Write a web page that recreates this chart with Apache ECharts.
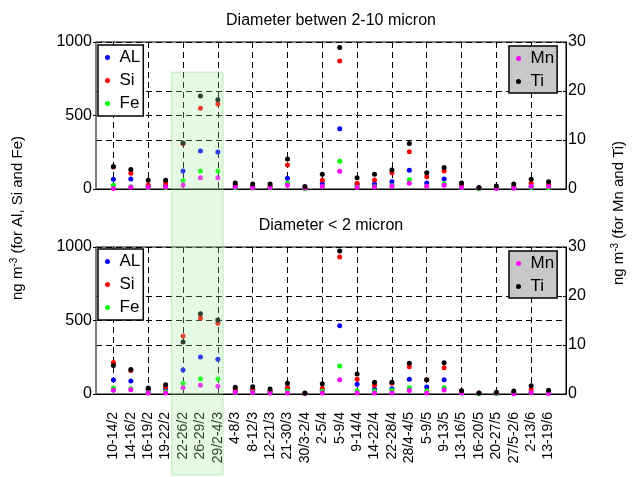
<!DOCTYPE html>
<html><head><meta charset="utf-8">
<script src="https://cdn.jsdelivr.net/npm/echarts@6/dist/echarts.min.js"></script>
<style>html,body{margin:0;padding:0;background:#fff}#c{width:635px;height:477px}</style>
</head><body><div id="c"></div>
<script>
const categories = ['10-14/2','14-16/2','16-19/2','19-22/2','22-26/2','26-29/2','29/2-4/3','4-8/3','8-12/3','12-21/3','21-30/3','30/3-2/4','2-5/4','5-9/4','9-14/4','14-22/4','22-28/4','28/4-4/5','5-9/5','9-13/5','13-16/5','16-20/5','20-27/5','27/5-2/6','2-13/6','13-19/6'];

// Top panel: Diameter 2-10 micron
const alTop = [66, 68, 15, 20, 122, 258, 252, 12, 10, 10, 73, 3, 36, 410, 30, 34, 50, 127, 41, 68, 15, 4, 5, 8, 20, 18];
const siTop = [150, 107, 27, 41, 308, 549, 578, 25, 20, 18, 163, 5, 59, 871, 39, 61, 111, 254, 84, 122, 27, 6, 10, 15, 39, 29];
const feTop = [25, 16, 8, 10, 57, 122, 122, 8, 6, 6, 39, 2, 15, 188, 12, 15, 22, 63, 18, 34, 8, 2, 3, 5, 10, 8];
const mnTop = [0.1, 0.35, 0.35, 0.4, 0.8, 2.3, 2.3, 0.4, 0.3, 0.3, 0.75, 0.2, 0.5, 3.6, 0.3, 0.4, 0.55, 1.15, 0.55, 0.75, 0.3, 0.2, 0.1, 0.15, 0.5, 0.5];
const tiTop = [4.6, 4.0, 1.8, 1.8, 9.4, 19.0, 18.2, 1.2, 1.0, 1.0, 6.1, 0.5, 3.0, 28.9, 2.3, 3.0, 3.9, 9.3, 3.3, 4.4, 1.2, 0.3, 0.6, 1.0, 2.0, 1.5];

// Bottom panel: Diameter < 2 micron
const alBot = [95, 88, 25, 36, 163, 252, 236, 20, 27, 12, 36, 3, 25, 465, 66, 32, 36, 100, 48, 97, 10, 3, 4, 5, 12, 8];
const siBot = [214, 160, 34, 50, 395, 515, 481, 32, 32, 18, 45, 4, 39, 932, 100, 59, 73, 186, 97, 179, 20, 4, 6, 8, 29, 12];
const feBot = [41, 35, 10, 15, 73, 104, 102, 8, 10, 6, 20, 1, 19, 190, 22, 20, 25, 43, 20, 43, 6, 2, 2, 3, 8, 5];
const mnBot = [0.75, 0.85, 0.2, 0.2, 1.3, 1.8, 1.6, 0.3, 0.25, 0.2, 0.2, 0.1, 0.2, 2.9, 0.2, 0.2, 0.2, 0.7, 0.2, 0.8, 0.2, 0.2, 0.2, 0.05, 0.27, 0.1];
const tiBot = [5.8, 5.0, 1.2, 1.9, 10.6, 16.4, 15.1, 1.4, 1.5, 1.0, 2.2, 0.2, 2.1, 29.2, 4.1, 2.4, 2.4, 6.3, 2.9, 6.4, 0.65, 0.2, 0.35, 0.6, 1.7, 0.75];

const leftTicks = [0, 500, 1000];
const rightTicks = [0, 10, 20, 30];
const shadeRange = [4.35, 7.3]; // category positions of shaded period
const shadeTopValue = 795;

const FONT = '"Liberation Sans", Arial, Helvetica, sans-serif';
const axisCats = [''].concat(categories, ['']);
const dash = {color: '#000', width: 1, type: [6, 4]};
const plain = function (v) { return String(v); };

function xAxisFor(gi, showLabels) {
  return {
    type: 'category', gridIndex: gi, data: axisCats, boundaryGap: false,
    axisLine: {show: true, lineStyle: {color: '#000', width: 1}},
    axisTick: {show: false},
    axisLabel: showLabels ? {show: true, interval: 0, rotate: 90, fontSize: 14, fontFamily: FONT, color: '#000', margin: 18} : {show: false},
    splitLine: {show: true, interval: function (idx) { return idx % 2 === 1 && idx <= 25; }, lineStyle: dash}
  };
}
function yLeft(gi) {
  return {
    type: 'value', gridIndex: gi, position: 'left', min: leftTicks[0], max: leftTicks[leftTicks.length - 1], interval: leftTicks[1] - leftTicks[0],
    axisLine: {show: true, lineStyle: {color: '#7f7f7f', width: 1.5}},
    axisTick: {show: true, inside: false, length: 3, lineStyle: {color: '#000'}},
    axisLabel: {fontSize: 16, fontFamily: FONT, color: '#000', margin: 4, formatter: plain},
    splitLine: {show: true, lineStyle: dash}
  };
}
function yRight(gi) {
  return {
    type: 'value', gridIndex: gi, position: 'right', min: rightTicks[0], max: rightTicks[rightTicks.length - 1], interval: rightTicks[1] - rightTicks[0],
    axisLine: {show: true, lineStyle: {color: '#000', width: 1}},
    axisTick: {show: true, inside: true, length: 3, lineStyle: {color: '#000'}},
    axisLabel: {fontSize: 16, fontFamily: FONT, color: '#000', margin: 2, formatter: plain},
    splitLine: {show: true, lineStyle: dash}
  };
}
function sc(name, data, gi, yi, color) {
  return {type: 'scatter', name: name, xAxisIndex: gi, yAxisIndex: yi, symbolSize: 5,
    itemStyle: {color: color, opacity: 1}, emphasis: {disabled: true},
    data: data.map(function (v, i) { return [i + 1, v]; })};
}
const colors = {AL: '#0000ff', Si: '#ff0000', Fe: '#00ff00', Mn: '#ff00ff', Ti: '#000000'};
function legend(names, top, left, bg, pad) {
  return {data: names, orient: 'vertical', left: left, top: top, padding: pad, itemGap: 6,
    itemWidth: 14, itemHeight: 5, icon: 'circle', selectedMode: false,
    textStyle: {fontSize: 17, lineHeight: 17, fontFamily: FONT, color: '#000'},
    backgroundColor: bg, borderColor: '#000', borderWidth: 1.5};
}
function rich(main, tail, x, y) {
  return {type: 'text', x: x, y: y, rotation: Math.PI / 2, z: 50,
    style: {text: '{a|' + main + '}{s|-3}{a|' + tail + '}', align: 'center', verticalAlign: 'middle',
      textAlign: 'center', textVerticalAlign: 'middle', fill: '#000',
      rich: {a: {fontSize: 15, fontFamily: FONT, fill: '#000', lineHeight: 18}, s: {fontSize: 10, fontFamily: FONT, fill: '#000', verticalAlign: 'top', lineHeight: 18}}}};
}

const chart = echarts.init(document.getElementById('c'), null, {renderer: 'canvas'});
const option = {
  animation: false,
  backgroundColor: '#fff',
  grid: [
    {left: 96, top: 42, width: 470, height: 147, show: true, borderColor: '#000', borderWidth: 1, backgroundColor: 'transparent'},
    {left: 96, top: 247, width: 470, height: 147, show: true, borderColor: '#000', borderWidth: 1, backgroundColor: 'transparent'}
  ],
  xAxis: [xAxisFor(0, false), xAxisFor(1, true)],
  yAxis: [yLeft(0), yRight(0), yLeft(1), yRight(1)],
  legend: [
    legend(['AL', 'Si', 'Fe'], 45, 98, '#fff', [4, 3, 4, 7]),
    legend(['Mn', 'Ti'], 46, 509, '#c8c8c8', [4, 3, 3, 7]),
    legend(['AL', 'Si', 'Fe'], 249, 98, '#fff', [4, 3, 4, 7]),
    legend(['Mn', 'Ti'], 251, 509, '#c8c8c8', [4, 3, 3, 7])
  ],
  series: [
    sc('AL', alTop, 0, 0, colors.AL), sc('Si', siTop, 0, 0, colors.Si), sc('Fe', feTop, 0, 0, colors.Fe),
    sc('Mn', mnTop, 0, 1, colors.Mn), sc('Ti', tiTop, 0, 1, colors.Ti),
    sc('AL', alBot, 1, 2, colors.AL), sc('Si', siBot, 1, 2, colors.Si), sc('Fe', feBot, 1, 2, colors.Fe),
    sc('Mn', mnBot, 1, 3, colors.Mn), sc('Ti', tiBot, 1, 3, colors.Ti)
  ]
};
chart.setOption(option);

const x0 = chart.convertToPixel({xAxisIndex: 1}, Math.floor(shadeRange[0]));
const step = chart.convertToPixel({xAxisIndex: 1}, Math.floor(shadeRange[0]) + 1) - x0;
const sx0 = x0 + (shadeRange[0] - Math.floor(shadeRange[0])) * step;
const sx1 = x0 + (shadeRange[1] - Math.floor(shadeRange[0])) * step;
const sy0 = chart.convertToPixel({yAxisIndex: 0}, shadeTopValue);

chart.setOption({
  graphic: [
    {type: 'text', x: 331, y: 21, z: 50, style: {text: 'Diameter betwen 2-10 micron', align: 'center', verticalAlign: 'middle', textAlign: 'center', textVerticalAlign: 'middle', fontSize: 16, fontFamily: FONT, fill: '#000'}},
    {type: 'text', x: 331, y: 226, z: 50, style: {text: 'Diameter < 2 micron', align: 'center', verticalAlign: 'middle', textAlign: 'center', textVerticalAlign: 'middle', fontSize: 16, fontFamily: FONT, fill: '#000'}},
    rich('ng m', ' (for Al, Si and Fe)', 18, 218),
    rich('ng m', ' (for Mn and Ti)', 619, 213),
    {type: 'rect', z: 100, shape: {x: sx0, y: sy0, width: sx1 - sx0, height: 475 - sy0},
      style: {fill: 'rgba(160,235,160,0.28)', stroke: 'rgba(110,210,110,0.8)', lineWidth: 1, lineDash: [1, 1]}}
  ]
});
</script></body></html>
